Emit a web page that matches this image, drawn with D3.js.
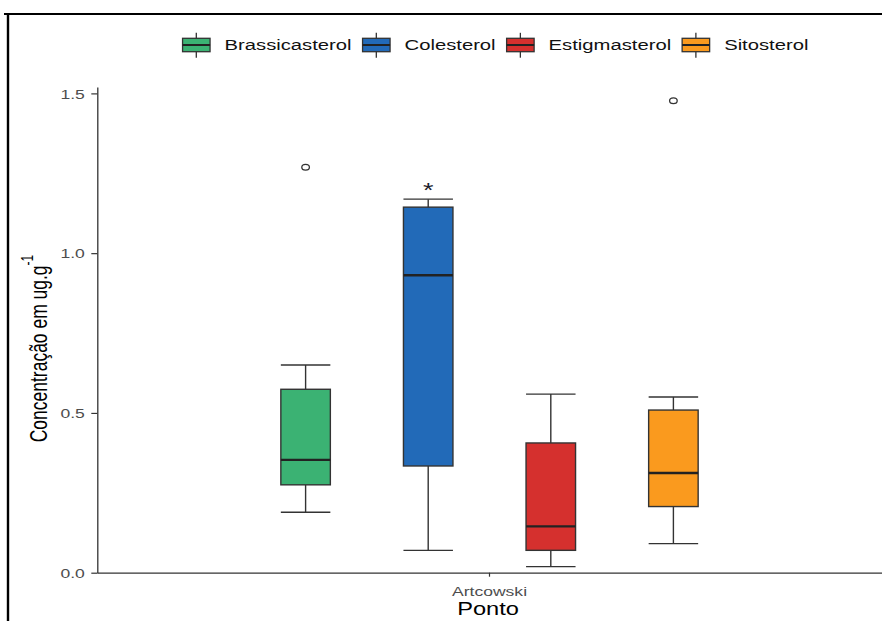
<!DOCTYPE html>
<html>
<head>
<meta charset="utf-8">
<script src="https://cdn.jsdelivr.net/npm/d3@7"></script>
<style>
  html, body { margin: 0; padding: 0; background: #fff; }
  svg { display: block; }
  text { font-family: "Liberation Sans", Arial, sans-serif; }
</style>
</head>
<body>
<svg id="chart" width="882" height="621"></svg>
<script>
// ---- data ----
const categories = ["Artcowski"];
const series = ["Brassicasterol", "Colesterol", "Estigmasterol", "Sitosterol"];
const lowerWhisker = [0.189, 0.070, 0.019, 0.091];
const q1 = [0.275, 0.334, 0.070, 0.207];
const median = [0.353, 0.931, 0.145, 0.312];
const q3 = [0.574, 1.144, 0.406, 0.509];
const upperWhisker = [0.650, 1.169, 0.559, 0.550];
const outliers = [[1.269], [], [], [1.477]];
const annotations = [{ series: "Colesterol", value: 1.207, label: "*" }];
const yTicks = [0, 0.5, 1.0, 1.5];
const colors = ["#3BB273", "#226AB8", "#D5302E", "#FA9A1E"];
const xTitle = "Ponto";
const yTitle = "Concentração em ug.g";
const yTitleSup = "-1";

// ---- layout ----
const S = 1.35; // horizontal text stretch of the reference
const svg = d3.select("#chart");
svg.append("rect").attr("width", 882).attr("height", 621).attr("fill", "#fff");

// outer frame (top + left)
svg.append("line").attr("x1", 4).attr("x2", 882).attr("y1", 14).attr("y2", 14)
  .attr("stroke", "#000").attr("stroke-width", 2.2);
svg.append("line").attr("x1", 8).attr("x2", 8).attr("y1", 13).attr("y2", 621)
  .attr("stroke", "#000").attr("stroke-width", 2.4);

const y = d3.scaleLinear().domain([0, 1.52]).range([572.7, 87]);
const x = d3.scaleBand().domain(categories).range([97, 882]).padding(0);
const inner = d3.scaleBand().domain(series).range([-245.2, 245.2]).padding(0);
const boxW = 49.5;
const cx = (s, c) => x(c) + x.bandwidth() / 2 + inner(s) + inner.bandwidth() / 2;

const axisColor = "#333333";
const tickText = "#4D4D4D";

// y axis
const yAxis = svg.append("g").attr("transform", "translate(97.3,0)")
  .call(d3.axisLeft(y).tickValues(yTicks).tickFormat(d3.format(".1f")).tickSize(6).tickSizeOuter(0));
yAxis.select(".domain").attr("stroke", axisColor).attr("stroke-width", 1.3);
yAxis.selectAll(".tick line").attr("stroke", axisColor).attr("stroke-width", 1.2);
yAxis.selectAll(".tick text")
  .attr("x", 0).attr("dy", "0.36em")
  .attr("transform", `translate(-12.5,0) scale(${S},1)`)
  .attr("fill", tickText).attr("font-size", 13).attr("text-anchor", "end");

// x axis
const xAxis = svg.append("g").attr("transform", "translate(0,572.7)")
  .call(d3.axisBottom(x).tickSize(4).tickSizeOuter(0));
xAxis.select(".domain").attr("stroke", axisColor).attr("stroke-width", 1.3);
xAxis.selectAll(".tick line").attr("stroke", axisColor).attr("stroke-width", 1.2);
xAxis.selectAll(".tick text")
  .attr("y", 0).attr("dy", 0)
  .attr("transform", `translate(0,23) scale(${S},1)`)
  .attr("fill", tickText).attr("font-size", 13).attr("text-anchor", "middle");

// axis titles
svg.append("g").attr("transform", `translate(${x(categories[0]) + x.bandwidth() / 2 - 1.5},614.5) scale(${S},1)`)
  .append("text").attr("text-anchor", "middle").attr("font-size", 17.5).attr("fill", "#000")
  .text(xTitle);

const yt = svg.append("g").attr("transform", `translate(46.5,348.5) scale(${S},1) rotate(-90)`)
  .append("text").attr("text-anchor", "middle").attr("font-size", 17.5).attr("fill", "#000");
yt.append("tspan").text(yTitle);
yt.append("tspan").attr("font-size", 12).attr("dy", "-0.85em").text(yTitleSup);

// boxes
const boxes = svg.append("g");
series.forEach((s, i) => {
  const c = cx(s, categories[0]);
  const g = boxes.append("g");
  // whiskers
  g.append("line").attr("x1", c).attr("x2", c).attr("y1", y(upperWhisker[i])).attr("y2", y(q3[i]))
    .attr("stroke", axisColor).attr("stroke-width", 1.4);
  g.append("line").attr("x1", c).attr("x2", c).attr("y1", y(q1[i])).attr("y2", y(lowerWhisker[i]))
    .attr("stroke", axisColor).attr("stroke-width", 1.4);
  [upperWhisker[i], lowerWhisker[i]].forEach(v => {
    g.append("line").attr("x1", c - boxW / 2).attr("x2", c + boxW / 2).attr("y1", y(v)).attr("y2", y(v))
      .attr("stroke", axisColor).attr("stroke-width", 1.4);
  });
  // box
  g.append("rect").attr("x", c - boxW / 2).attr("width", boxW)
    .attr("y", y(q3[i])).attr("height", y(q1[i]) - y(q3[i]))
    .attr("fill", colors[i]).attr("stroke", axisColor).attr("stroke-width", 1.4);
  // median
  g.append("line").attr("x1", c - boxW / 2).attr("x2", c + boxW / 2).attr("y1", y(median[i])).attr("y2", y(median[i]))
    .attr("stroke", "#222").attr("stroke-width", 2.4);
  // outliers
  outliers[i].forEach(v => {
    g.append("ellipse").attr("cx", c).attr("cy", y(v)).attr("rx", 3.8).attr("ry", 2.9)
      .attr("fill", "none").attr("stroke", axisColor).attr("stroke-width", 1.3);
  });
});

// annotations (asterisk)
annotations.forEach(a => {
  const c = cx(a.series, categories[0]);
  svg.append("g").attr("transform", `translate(${c},${y(a.value) + 10}) scale(${S},1)`)
    .append("text").attr("text-anchor", "middle").attr("font-size", 20).attr("fill", "#1b1b2b")
    .text(a.label);
});

// legend
const legend = svg.append("g");
const keyW = 27.5, keyH = 13.4, keyY = 38.3;
const gap = 11;
let cur = 0;
series.forEach((s, i) => {
  const g = legend.append("g").attr("transform", `translate(${cur},0)`);
  const kc = keyW / 2;
  g.append("line").attr("x1", kc).attr("x2", kc).attr("y1", keyY - 5.5).attr("y2", keyY + keyH + 6)
    .attr("stroke", axisColor).attr("stroke-width", 1.3);
  g.append("rect").attr("x", 0).attr("y", keyY).attr("width", keyW).attr("height", keyH)
    .attr("fill", colors[i]).attr("stroke", axisColor).attr("stroke-width", 1.3);
  g.append("line").attr("x1", 0).attr("x2", keyW).attr("y1", keyY + keyH / 2).attr("y2", keyY + keyH / 2)
    .attr("stroke", "#222").attr("stroke-width", 2);
  const t = g.append("g").attr("transform", `translate(${42},50.4) scale(${S},1)`)
    .append("text").attr("font-size", 15).attr("fill", "#111").text(s);
  const w = t.node().getComputedTextLength() * S;
  cur += 42 + w + gap;
});
const totalW = cur - gap;
legend.attr("transform", `translate(${495.5 - totalW / 2},0)`);
</script>
</body>
</html>
